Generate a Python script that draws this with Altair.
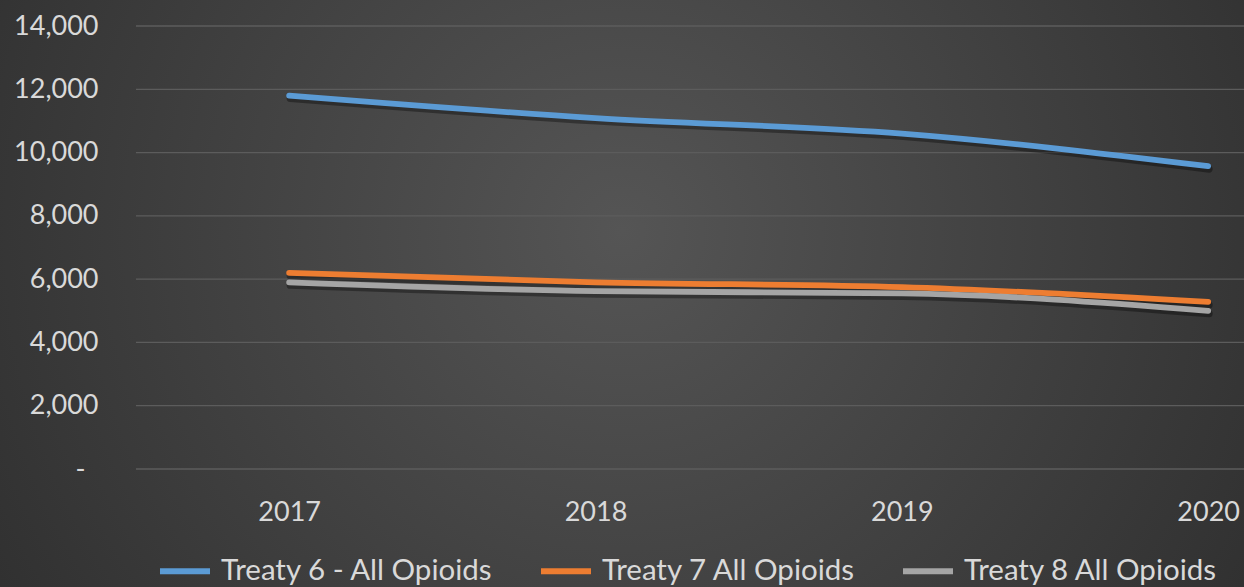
import altair as alt
import pandas as pd

years = [2017, 2018, 2019, 2020]
series_names = ["Treaty 6 - All Opioids", "Treaty 7 All Opioids", "Treaty 8 All Opioids"]
treaty6 = [11800, 11090, 10600, 9570]
treaty7 = [6200, 5900, 5750, 5280]
treaty8 = [5900, 5620, 5550, 5000]
colors = ["#5b9bd5", "#ed7d31", "#a5a5a5"]
y_ticks = [0, 2000, 4000, 6000, 8000, 10000, 12000, 14000]

rows = []
for name, vals in zip(series_names, [treaty6, treaty7, treaty8]):
    for yr, v in zip(years, vals):
        rows.append({"Year": yr, "Series": name, "Value": v})
df = pd.DataFrame(rows)
grid_df = pd.DataFrame({"Value": y_ticks})

W, H = 1108, 443
PL, PT, PR, PB = 136, 26, 0, 118
TEXT = "#d9d9d9"

x_enc = alt.X(
    "Year:Q",
    scale=alt.Scale(domain=[2016.5, 2020.117], nice=False, zero=False),
    axis=alt.Axis(
        values=years, format="d", title=None, grid=False, ticks=False,
        domain=False, labelPadding=30, labelFontSize=27, labelColor=TEXT,
        zindex=1,
    ),
)
y_scale = alt.Scale(domain=[0, 14000], nice=False)
y_axis = alt.Axis(
    values=y_ticks, title=None, ticks=False, domain=False, grid=False,
    labelPadding={"condition": {"test": "datum.value == 0", "value": 51}, "value": 38},
    labelFontSize=27, labelColor=TEXT, zindex=1,
    labelExpr='datum.value == 0 ? "-" : format(datum.value, ",")',
)
y_enc = alt.Y("Value:Q", scale=y_scale, axis=y_axis)

bg = alt.Chart(pd.DataFrame({"a": [0]})).mark_rect(
    color={
        "gradient": "radial",
        "x1": 0.5, "y1": 0.45, "r1": 0,
        "x2": 0.5, "y2": 0.45, "r2": 0.75,
        "stops": [
            {"offset": 0, "color": "#555555"},
            {"offset": 1, "color": "#262626"},
        ],
    }
).encode(
    x=alt.value(-PL), x2=alt.value(W + PR),
    y=alt.value(-PT), y2=alt.value(H + PB),
)

grid = alt.Chart(grid_df).mark_rule(color="#5c5c5c", strokeWidth=1.3).encode(
    y=y_enc
)

base = alt.Chart(df).encode(x=x_enc, y=y_enc)

shadow = base.mark_line(
    interpolate="monotone", strokeWidth=7, color="black", opacity=0.35,
    yOffset=3, xOffset=1, strokeCap="round",
).encode(detail="Series:N")

lines = base.mark_line(
    interpolate="monotone", strokeWidth=5.8, strokeCap="round",
).encode(
    color=alt.Color(
        "Series:N",
        scale=alt.Scale(domain=series_names, range=colors),
        legend=alt.Legend(
            title=None, orient="none", direction="horizontal",
            legendX=21, legendY=517,
            symbolType="stroke", symbolSize=2500, symbolStrokeWidth=6,
            labelFontSize=29.5, labelColor=TEXT, labelOffset=8, labelLimit=0,
            columnPadding=35, zindex=1,
        ),
    )
)

chart = alt.layer(bg, grid, shadow, lines).properties(
    width=W, height=H,
    padding={"left": PL, "top": PT, "right": PR, "bottom": PB},
    autosize=alt.AutoSizeParams(type="none"),
    background="#262626",
).configure(font="Lato").configure_view(stroke=None)

chart.save("out.html", embed_options={"renderer": "svg", "actions": False})
